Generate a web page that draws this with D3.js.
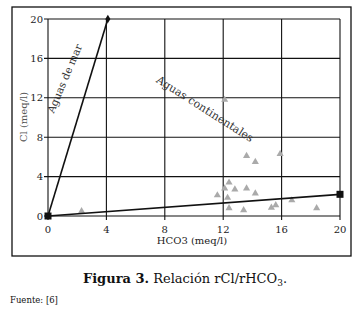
<!DOCTYPE html>
<html lang="es">
<head>
  <meta charset="UTF-8">
  <title>Relación rCl/rHCO3</title>
  <script src="https://d3js.org/d3.v7.min.js"></script>
  <style>
    body { margin: 0; background: #fff; }
    svg { display: block; font-family: "DejaVu Serif", "Liberation Serif", serif; }
    .tick-label { font-size: 10px; fill: #222; }
  </style>
</head>
<body>
  <svg id="chart" width="356" height="312"></svg>
  <script>
    // datos
    const ticks = [0, 4, 8, 12, 16, 20];
    const seaLine = [[0, 0], [4.1, 20]];          // aguas de mar
    const contLine = [[0, 0], [20, 2.2]];         // aguas continentales
    const sampleHCO3 = [13.6, 14.2, 15.9, 12.4, 12.1, 12.8, 13.6, 11.6, 14.2, 12.3, 12.4, 13.4, 15.3, 15.6, 16.7, 18.4, 12.1, 2.3];
    const sampleCl   = [6.1, 5.5, 6.3, 3.4, 2.8, 2.7, 2.8, 2.1, 2.3, 1.85, 0.8, 0.6, 0.85, 1.1, 1.6, 0.8, 11.8, 0.5];

    const svg = d3.select("#chart");

    // marco exterior
    svg.append("rect")
      .attr("x", 12).attr("y", 7)
      .attr("width", 339).attr("height", 249)
      .attr("fill", "none").attr("stroke", "#111").attr("stroke-width", 1.3);

    const x = d3.scaleLinear().domain([0, 20]).range([48, 340]);
    const y = d3.scaleLinear().domain([0, 20]).range([216, 19]);

    // rejilla
    const grid = svg.append("g").attr("stroke", "#111").attr("stroke-width", 1.1);
    ticks.forEach(t => {
      grid.append("line")
        .attr("x1", x(t)).attr("x2", x(t))
        .attr("y1", y(20)).attr("y2", y(0) + 4);
      grid.append("line")
        .attr("x1", x(0) - 4).attr("x2", x(20))
        .attr("y1", y(t)).attr("y2", y(t));
    });

    // etiquetas de los ejes
    svg.append("g").selectAll("text")
      .data(ticks).enter().append("text")
      .attr("class", "tick-label")
      .attr("x", x(0) - 5).attr("y", d => y(d) + 3.5)
      .attr("text-anchor", "end")
      .text(d => d);
    svg.append("g").selectAll("text")
      .data(ticks).enter().append("text")
      .attr("class", "tick-label")
      .attr("x", d => x(d)).attr("y", y(0) + 17)
      .attr("text-anchor", "middle")
      .text(d => d);

    svg.append("text")
      .attr("transform", `translate(27, 117) rotate(-90)`)
      .attr("text-anchor", "middle")
      .attr("font-size", 10).attr("fill", "#555")
      .text("Cl (meq/l)");
    svg.append("text")
      .attr("x", 192).attr("y", 244)
      .attr("text-anchor", "middle")
      .attr("font-size", 10).attr("fill", "#222")
      .text("HCO3 (meq/l)");

    // puntos de muestras
    const tri = d3.symbol().type(d3.symbolTriangle).size(22);
    svg.append("g").selectAll("path")
      .data(sampleHCO3.map((v, i) => [v, sampleCl[i]]))
      .enter().append("path")
      .attr("d", tri)
      .attr("transform", d => `translate(${x(d[0])},${y(d[1])})`)
      .attr("fill", "#aaa");

    // rectas
    const line = d3.line().x(d => x(d[0])).y(d => y(d[1]));
    [seaLine, contLine].forEach(l => {
      svg.append("path").datum(l)
        .attr("d", line)
        .attr("fill", "none").attr("stroke", "#111").attr("stroke-width", 1.6);
    });

    // marcadores de los extremos
    svg.append("g").selectAll("rect")
      .data([contLine[0], contLine[1]])
      .enter().append("rect")
      .attr("x", d => x(d[0]) - 3.5).attr("y", d => y(d[1]) - 3.5)
      .attr("width", 7).attr("height", 7)
      .attr("fill", "#111");
    svg.append("path")
      .attr("d", d3.symbol().type(d3.symbolDiamond).size(22))
      .attr("transform", `translate(${x(seaLine[1][0])},${y(seaLine[1][1])})`)
      .attr("fill", "#111");

    // textos sobre las rectas
    svg.append("text")
      .attr("transform", "translate(68,80) rotate(-67)")
      .attr("text-anchor", "middle")
      .attr("font-size", 10.5).attr("fill", "#333")
      .text("Aguas de mar");
    svg.append("text")
      .attr("transform", "translate(203,112) rotate(32.5)")
      .attr("text-anchor", "middle")
      .attr("font-size", 11).attr("fill", "#333")
      .text("Aguas continentales");

    // pie de figura
    const cap = svg.append("text")
      .attr("x", 185).attr("y", 283)
      .attr("text-anchor", "middle")
      .attr("font-size", 13).attr("fill", "#111");
    cap.append("tspan").attr("font-weight", "bold").text("Figura 3.");
    cap.append("tspan").text(" Relación rCl/rHCO");
    cap.append("tspan").attr("font-size", 9).attr("dy", 3).text("3");
    cap.append("tspan").attr("dy", -3).text(".");

    svg.append("text")
      .attr("x", 10).attr("y", 303)
      .attr("font-size", 8.5).attr("fill", "#111")
      .text("Fuente: [6]");
  </script>
</body>
</html>
